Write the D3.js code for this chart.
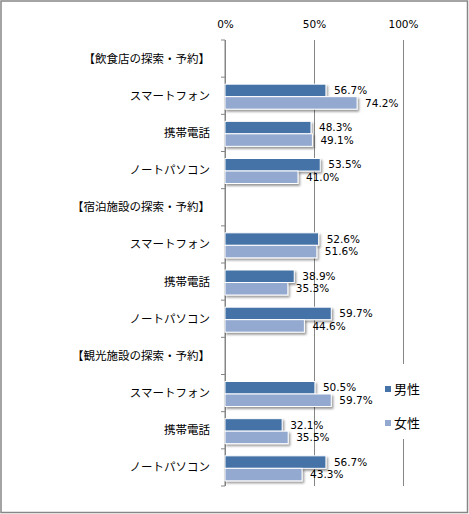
<!DOCTYPE html>
<html><head><meta charset="utf-8">
<script src="https://cdn.jsdelivr.net/npm/d3@7"></script>
<style>body{margin:0;background:#fff;} svg{display:block;}</style>
</head><body>
<svg id="c" width="469" height="514"></svg>
<script>
const groups = ["【飲食店の探索・予約】","【宿泊施設の探索・予約】","【観光施設の探索・予約】"];
const devices = ["スマートフォン","携帯電話","ノートパソコン"];
const seriesNames = ["男性","女性"];
const male = [56.7,48.3,53.5, 52.6,38.9,59.7, 50.5,32.1,56.7];
const female = [74.2,49.1,41.0, 51.6,35.3,44.6, 59.7,35.5,43.3];
const xTicks = [0,50,100];
const colors = ["#4572A7","#93A9CF"];

const rows = [];
const bars = [];
groups.forEach((g,gi)=>{
  rows.push({key:"g"+gi,label:g});
  devices.forEach((d,di)=>{
    const k = "g"+gi+"d"+di, i = gi*3+di;
    rows.push({key:k,label:d});
    bars.push({row:k,s:0,v:male[i]});
    bars.push({row:k,s:1,v:female[i]});
  });
});

const svg = d3.select("#c");
const defs = svg.append("defs");
const f = defs.append("filter").attr("id","sh").attr("x","-10%").attr("y","-30%").attr("width","130%").attr("height","180%");
f.append("feDropShadow").attr("dx",1.5).attr("dy",2).attr("stdDeviation",1).attr("flood-color","#000").attr("flood-opacity",0.4);

svg.append("rect").attr("x",1).attr("y",1).attr("width",466.5).attr("height",511.5)
  .attr("fill","#fff").attr("stroke","#868686").attr("stroke-width",1.5);

const x = d3.scaleLinear().domain([0,100]).range([225,403]);
const y = d3.scaleBand().domain(rows.map(r=>r.key)).range([40,486]).paddingInner(0).paddingOuter(0);
const s = d3.scaleBand().domain([0,1]).range([7,32]);

// gridlines + top labels
const ax = svg.append("g").attr("transform","translate(0,40)")
  .call(d3.axisTop(x).tickValues(xTicks).tickSize(-446).tickFormat(d=>d+"%").tickPadding(12));
ax.select(".domain").remove();
ax.selectAll(".tick line").attr("stroke","#868686").attr("stroke-width",1);
ax.selectAll(".tick text").attr("font-family","Tahoma, 'DejaVu Sans', sans-serif").attr("font-size",10.5).attr("fill","#000");

// left axis line + ticks at band boundaries
svg.append("line").attr("x1",x(0)).attr("x2",x(0)).attr("y1",y.range()[0]).attr("y2",y.range()[1]).attr("stroke","#868686");
const bounds = rows.map(r=>y(r.key)).concat([y.range()[1]]);
svg.selectAll(".yt").data(bounds).join("line").attr("x1",x(0)-4).attr("x2",x(0))
  .attr("y1",d=>d).attr("y2",d=>d).attr("stroke","#868686");

// category labels
svg.selectAll(".cl").data(rows).join("text")
  .attr("x",210).attr("y",d=>y(d.key)+y.bandwidth()/2)
  .attr("dy","0.35em").attr("text-anchor","end")
  .attr("font-family","'Noto Sans CJK JP', sans-serif").attr("font-size",11.5).attr("fill","#000")
  .text(d=>d.label);

// bars
svg.selectAll(".bar").data(bars).join("rect")
  .attr("x",x(0)).attr("y",d=>y(d.row)+s(d.s))
  .attr("width",d=>x(d.v)-x(0)).attr("height",s.bandwidth())
  .attr("fill",d=>colors[d.s]).attr("stroke","#fff").attr("stroke-width",1)
  .attr("filter","url(#sh)");

// value labels
svg.selectAll(".vl").data(bars).join("text")
  .attr("x",d=>x(d.v)+8).attr("y",d=>y(d.row)+s(d.s)+s.bandwidth()/2)
  .attr("dy","0.35em")
  .attr("font-family","Tahoma, 'DejaVu Sans', sans-serif").attr("font-size",10.5).attr("fill","#000")
  .text(d=>d.v.toFixed(1)+"%");

// legend
const lg = svg.append("g");
lg.append("rect").attr("x",380).attr("y",364).attr("width",80).attr("height",75).attr("fill","#fff");
seriesNames.forEach((n,i)=>{
  const cy = 389 + i*34;
  lg.append("rect").attr("x",385).attr("y",cy-3).attr("width",6).attr("height",6).attr("fill",colors[i]);
  lg.append("text").attr("x",394).attr("y",cy).attr("dy","0.36em")
    .attr("font-family","'Noto Sans CJK JP', sans-serif").attr("font-size",13).attr("fill","#000").text(n);
});
</script>
</body></html>
